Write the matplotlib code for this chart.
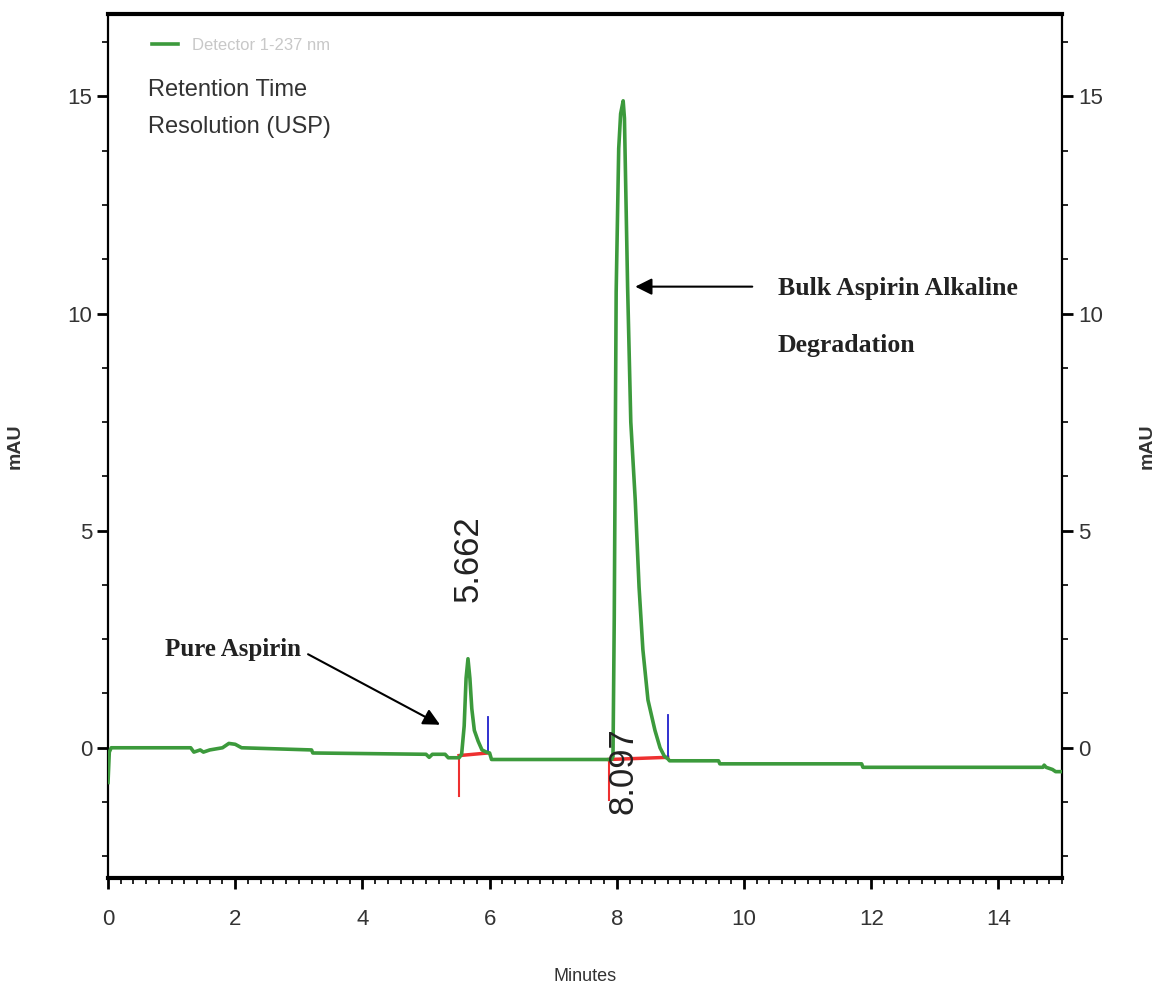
import matplotlib.pyplot as plt
from matplotlib.ticker import MultipleLocator

# chromatogram trace (minutes, mAU)
time = [0.0, 0.02, 0.05, 1.3, 1.35, 1.45, 1.5, 1.6, 1.8, 1.9, 2.0, 2.1,
        3.2, 3.22, 5.0, 5.05, 5.1, 5.3, 5.35, 5.52, 5.56, 5.6, 5.63, 5.66,
        5.69, 5.72, 5.76, 5.82, 5.88, 5.95, 6.0, 6.03, 7.92, 7.94, 7.96,
        7.99, 8.03, 8.06, 8.1, 8.12, 8.17, 8.22, 8.29, 8.35, 8.41, 8.49,
        8.6, 8.68, 8.75, 8.8, 8.83, 9.6, 9.62, 11.85, 11.87, 14.7, 14.72,
        14.75, 14.85, 14.9, 15.0]
signal = [-0.8, -0.1, 0.0, 0.0, -0.1, -0.05, -0.1, -0.05, 0.0, 0.1, 0.08, 0.0,
          -0.05, -0.12, -0.15, -0.22, -0.15, -0.15, -0.23, -0.23, -0.15, 0.5, 1.6, 2.05,
          1.6, 0.9, 0.4, 0.15, -0.05, -0.1, -0.12, -0.27, -0.27, -0.2, 3.0,
          10.5, 13.8, 14.6, 14.9, 14.5, 10.6, 7.5, 5.7, 3.7, 2.26, 1.1,
          0.4, 0.0, -0.2, -0.25, -0.3, -0.3, -0.37, -0.37, -0.45, -0.45, -0.4,
          -0.45, -0.5, -0.55, -0.55]

# integration marks
peak_rt = [5.662, 8.097]
start_x = [5.52, 7.88]
start_lo = [-1.1, -1.2]
start_y = [-0.18, -0.27]
end_x = [5.97, 8.8]
end_y = [-0.12, -0.22]
end_hi = [0.7, 0.75]
label_y = [4.35, -0.53]

sans = ['Liberation Sans', 'DejaVu Sans']
serif = ['Liberation Serif', 'DejaVu Serif']

fig = plt.figure(figsize=(11.59, 9.9), dpi=100)
ax = fig.add_axes([0.0932, 0.1131, 0.8231, 0.8728])

ax.plot(time, signal, color='#3c9a3c', lw=2.6, label='Detector 1-237 nm', zorder=3)

for i in range(2):
    ax.plot([start_x[i], start_x[i]], [start_lo[i], start_y[i]], color='#ee3030', lw=1.5, zorder=2)
    ax.plot([start_x[i], end_x[i]], [start_y[i], end_y[i]], color='#ee3030', lw=2.5, zorder=2)
    ax.plot([end_x[i], end_x[i]], [end_y[i], end_hi[i]], color='#2020cc', lw=1.3, zorder=2)
    ax.text(peak_rt[i], label_y[i], '%.3f' % peak_rt[i], rotation=90, ha='center', va='center',
            fontsize=25, color='#222222', family=sans)

ax.set_xlim(0, 15)
ax.set_ylim(-3.0, 16.9)
ax.xaxis.set_major_locator(MultipleLocator(2))
ax.xaxis.set_minor_locator(MultipleLocator(0.2))
ax.yaxis.set_major_locator(MultipleLocator(5))
ax.yaxis.set_minor_locator(MultipleLocator(1.25))

for s in ['top', 'bottom']:
    ax.spines[s].set_linewidth(3)
for s in ['left', 'right']:
    ax.spines[s].set_linewidth(1.6)

ax.tick_params(which='major', length=8, width=2, labelsize=16, labelcolor='#333333',
               right=True, labelright=True)
ax.tick_params(axis='x', which='major', pad=14)
ax.tick_params(which='minor', length=4, width=1.2, right=True)
for lab in ax.get_xticklabels() + ax.get_yticklabels():
    lab.set_family(sans)

ax.set_xlabel('Minutes', fontsize=13, family=sans, color='#333333', labelpad=28)
ax.text(-0.0975, 0.5, 'mAU', transform=ax.transAxes, rotation=90, ha='center', va='center',
        fontsize=14, family=sans, fontweight='bold', color='#333333')
ax.text(1.089, 0.5, 'mAU', transform=ax.transAxes, rotation=90, ha='center', va='center',
        fontsize=14, family=sans, fontweight='bold', color='#333333')

leg = ax.legend(loc='upper left', bbox_to_anchor=(0.03, 0.99), frameon=False,
                handlelength=1.6, prop={'family': sans, 'size': 12})
for t in leg.get_texts():
    t.set_color('#c8c8c8')
ax.text(0.042, 0.925, 'Retention Time\nResolution (USP)', transform=ax.transAxes,
        fontsize=17, family=sans, color='#333333', va='top', linespacing=1.9)

ax.annotate('Pure Aspirin', xy=(5.22, 0.53), xytext=(0.9, 2.26), fontsize=18, family=serif,
            fontweight='bold', color='#222222', va='center',
            arrowprops=dict(arrowstyle='-|>', color='black', lw=1.5, mutation_scale=25,
                            shrinkA=0, shrinkB=0, relpos=(1.05, 0.3)))
ax.annotate('', xy=(8.29, 10.62), xytext=(10.13, 10.62),
            arrowprops=dict(arrowstyle='-|>', color='black', lw=1.5, mutation_scale=25,
                            shrinkA=0, shrinkB=0))
ax.text(10.53, 9.92, 'Bulk Aspirin Alkaline\nDegradation', fontsize=18.5, family=serif,
        fontweight='bold', color='#222222', va='center', linespacing=2.9)

fig.savefig('out.png', dpi=100)
